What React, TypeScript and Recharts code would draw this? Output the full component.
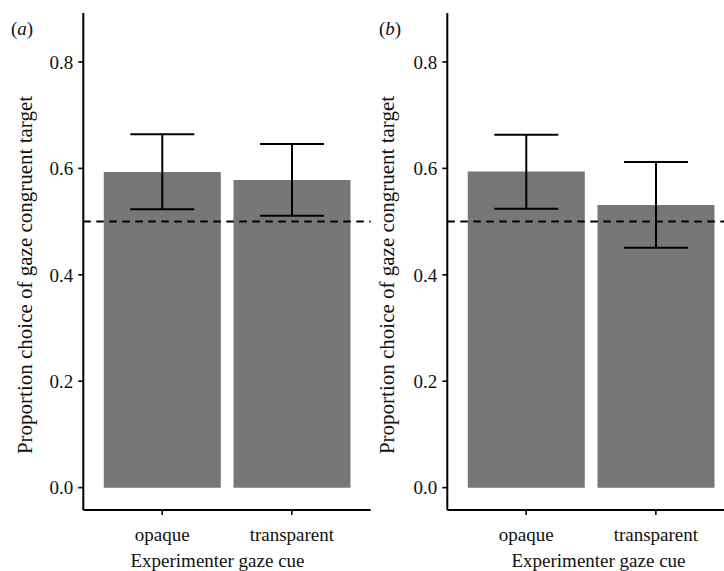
import React from "react";
import { BarChart, Bar, XAxis, YAxis, ErrorBar, ReferenceLine } from "recharts";

// gaze cue conditions
const categories = ["opaque", "transparent"];

// panel (a)
const meansA = [0.593, 0.578];
const lowerA = [0.523, 0.511];
const upperA = [0.664, 0.646];

// panel (b)
const meansB = [0.594, 0.531];
const lowerB = [0.524, 0.451];
const upperB = [0.663, 0.612];

const yTicks = [0, 0.2, 0.4, 0.6, 0.8];
const chance = 0.5;

const FONT = "Liberation Serif, DejaVu Serif, serif";
const INK = "#111";

function rows(means: number[], lower: number[], upper: number[]) {
  return categories.map((cue, i) => ({
    cue,
    p: means[i],
    err: [means[i] - lower[i], upper[i] - means[i]],
  }));
}

type PanelProps = {
  data: ReturnType<typeof rows>;
  letter: string;
  left: number;
  yTitleX: number;
  letterX: number;
  xTitleX: number;
};

function Panel({ data, letter, left, yTitleX, letterX, xTitleX }: PanelProps) {
  const yTitle = () => (
    <g style={{ fontFamily: FONT }} fill={INK}>
      <text x={letterX} y={35} fontSize={19}>
        (<tspan fontStyle="italic">{letter}</tspan>)
      </text>
      <text
        x={yTitleX}
        y={275}
        fontSize={21}
        textAnchor="middle"
        transform={`rotate(-90 ${yTitleX} 275)`}
      >
        Proportion choice of gaze congruent target
      </text>
    </g>
  );
  const xTitle = () => (
    <text x={xTitleX} y={567} fontSize={19} textAnchor="middle" style={{ fontFamily: FONT }} fill={INK}>
      Experimenter gaze cue
    </text>
  );
  const tickStyle = { fontSize: 19, fill: INK, style: { fontFamily: FONT } };

  return (
    <div style={{ position: "absolute", left, top: 0, fontFamily: FONT }}>
      <BarChart
        width={372}
        height={571}
        data={data}
        margin={{ top: 13, right: 1.3, bottom: 0, left: 0 }}
        barCategoryGap="5%"
        style={{ fontFamily: FONT }}
      >
        <XAxis
          dataKey="cue"
          height={61}
          padding={{ left: 14, right: 14 }}
          tickSize={5}
          tickMargin={13}
          axisLine={{ stroke: "#000", strokeWidth: 2 }}
          tickLine={{ stroke: "#000", strokeWidth: 1.6 }}
          tick={tickStyle}
          label={{ content: xTitle }}
        />
        <YAxis
          type="number"
          width={83.3}
          domain={[-0.042, 0.892]}
          allowDataOverflow
          ticks={yTicks}
          tickFormatter={(v: number) => v.toFixed(1)}
          tickSize={5}
          tickMargin={5}
          axisLine={{ stroke: "#000", strokeWidth: 2 }}
          tickLine={{ stroke: "#000", strokeWidth: 1.6 }}
          tick={tickStyle}
          label={{ content: yTitle }}
        />
        <Bar dataKey="p" fill="#777777" isAnimationActive={false}>
          <ErrorBar
            dataKey="err"
            width={32}
            stroke="#000"
            strokeWidth={2}
            isAnimationActive={false}
          />
        </Bar>
        <ReferenceLine y={chance} stroke="#000" strokeWidth={2} strokeDasharray="7.5 5.5" />
      </BarChart>
    </div>
  );
}

export default function App() {
  return (
    <div
      style={{
        position: "fixed",
        left: 0,
        top: 0,
        width: 724,
        height: 571,
        overflow: "hidden",
        background: "#fff",
      }}
    >
      <Panel
        data={rows(meansA, lowerA, upperA)}
        letter="a"
        left={0}
        yTitleX={32}
        letterX={11}
        xTitleX={217.5}
      />
      <Panel
        data={rows(meansB, lowerB, upperB)}
        letter="b"
        left={364.2}
        yTitleX={29.8}
        letterX={15}
        xTitleX={234.5}
      />
    </div>
  );
}
